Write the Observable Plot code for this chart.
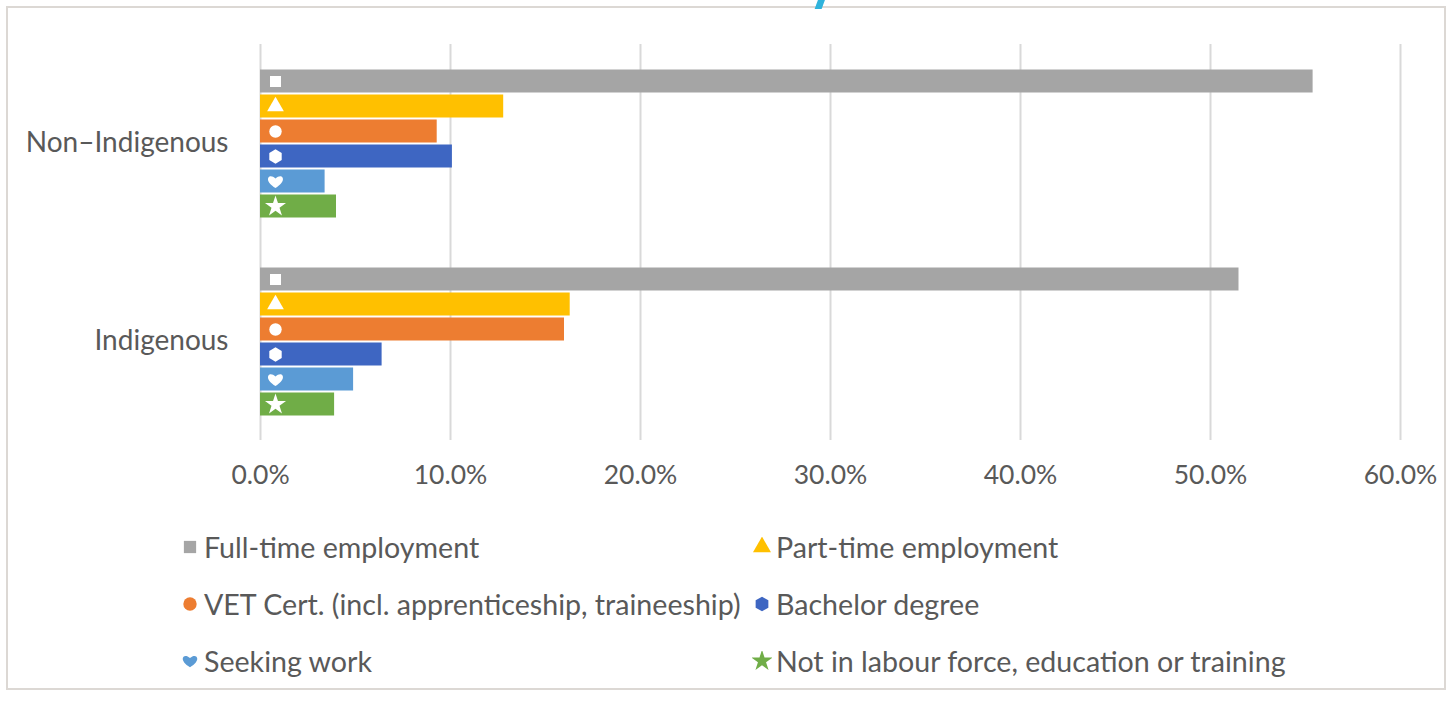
<!DOCTYPE html>
<html>
<head>
<meta charset="utf-8">
<script src="https://cdn.jsdelivr.net/npm/d3@7"></script>
<script src="https://cdn.jsdelivr.net/npm/@observablehq/plot@0.6"></script>
<style>
  html, body { margin: 0; padding: 0; background: #fff; }
  body { width: 1454px; height: 702px; position: relative; overflow: hidden; font-family: Lato, "Open Sans", sans-serif; }
  #frame { position: absolute; left: 6px; top: 6px; width: 1440px; height: 684px; border: 2px solid #dcd8d4; box-sizing: border-box; pointer-events: none; }
  #slash { position: absolute; left: 817px; top: -4px; width: 7px; height: 13px; background: #2fb3dc; transform: skewX(-20deg); }
  #chart { position: absolute; left: 0; top: 0; }
  #legend { position: absolute; left: 0; top: 518px; width: 1454px; color: #595959; font-size: 28.6px; }
  .item { position: absolute; display: flex; align-items: center; height: 57px; white-space: nowrap; }
  .item svg { margin-right: 4px; }
  #chart svg g[aria-label="x-axis tick label"] text { font-size: 26.5px; }
</style>
</head>
<body>
<div id="chart"></div>
<div id="legend"></div>
<div id="frame"></div>
<div id="slash"></div>
<script>
const groups = ["Non–Indigenous", "Indigenous"];
const series = [
  "Full-time employment",
  "Part-time employment",
  "VET Cert. (incl. apprenticeship, traineeship)",
  "Bachelor degree",
  "Seeking work",
  "Not in labour force, education or training"
];
const nonIndigenous = [0.554, 0.128, 0.093, 0.101, 0.034, 0.040];
const indigenous    = [0.515, 0.163, 0.160, 0.064, 0.049, 0.039];
const colors = ["#a5a5a5", "#ffc000", "#ed7d31", "#3e66c2", "#5b9bd5", "#70ad47"];
const xTicks = [0, 0.1, 0.2, 0.3, 0.4, 0.5, 0.6];

const heart = {
  draw(ctx, size) {
    const s = Math.sqrt(size) / 2;
    ctx.moveTo(0, s * 0.95);
    ctx.bezierCurveTo(-s * 1.9, -s * 0.1, -s * 1.0, -s * 1.4, 0, -s * 0.45);
    ctx.bezierCurveTo(s * 1.0, -s * 1.4, s * 1.9, -s * 0.1, 0, s * 0.95);
    ctx.closePath();
  }
};
const symbols = ["square", "triangle", "circle", "hexagon", heart, "star"];
const markerR = [6.2, 6.2, 6.2, 6.2, 7.6, 6.6];

const data = [];
groups.forEach((g, gi) => {
  const vals = gi === 0 ? nonIndigenous : indigenous;
  series.forEach((s, si) => data.push({group: g, series: s, value: vals[si], idx: si}));
});

const chart = Plot.plot({
  width: 1454,
  height: 500,
  marginLeft: 260,
  marginRight: 54,
  marginTop: 44,
  marginBottom: 60,
  style: {fontFamily: "Lato, 'Open Sans', sans-serif", fontSize: "28px", color: "#595959", background: "transparent"},
  x: {domain: [0, 0.6], ticks: xTicks, tickFormat: d3.format(".1%"), label: null, tickSize: 0, tickPadding: 25},
  y: {domain: series, axis: null, paddingInner: 0.04, paddingOuter: 0.96},
  fy: {domain: groups, axis: "left", label: null, tickSize: 0, tickPadding: 32, paddingInner: 0, paddingOuter: 0},
  color: {domain: series, range: colors},
  marks: [
    Plot.ruleX(xTicks, {stroke: "#d9d9d9", strokeWidth: 2, strokeOpacity: 1}),
    Plot.barX(data, {x: "value", y: "series", fy: "group", fill: "series", inset: 0, insetTop: 0.5, insetBottom: 0.5}),
    ...series.map((s, si) => Plot.dot(data.filter(d => d.idx === si), {
      x: () => 0, y: "series", fy: "group", dx: 15, r: markerR[si], fill: "white", stroke: "none", symbol: symbols[si]
    }))
  ]
});
document.getElementById("chart").appendChild(chart);

// Legend
const legend = document.getElementById("legend");
const positions = [
  [180, 0], [752, 0],
  [180, 57], [752, 57],
  [180, 114], [752, 114]
];
const hexagon = {draw(ctx, size) {
  const r = Math.sqrt(size / (3 * Math.sqrt(3) / 2));
  for (let k = 0; k < 6; k++) {
    const a = Math.PI / 3 * k + Math.PI / 6;
    const x = r * Math.cos(a), y = r * Math.sin(a);
    k ? ctx.lineTo(x, y) : ctx.moveTo(x, y);
  }
  ctx.closePath();
}};
const legendTypes = [d3.symbolSquare, d3.symbolTriangle, d3.symbolCircle, hexagon, heart, d3.symbolStar];
series.forEach((s, i) => {
  const item = document.createElement("div");
  item.className = "item";
  item.style.left = positions[i][0] + "px";
  item.style.top = positions[i][1] + "px";
  const path = d3.symbol().type(legendTypes[i]).size(i === 0 ? 150 : (i === 4 ? 170 : 140))();
  item.innerHTML = `<svg width="20" height="20" viewBox="-10 -10 20 20"><path d="${path}" fill="${colors[i]}"/></svg><span>${s}</span>`;
  legend.appendChild(item);
});
</script>
</body>
</html>
